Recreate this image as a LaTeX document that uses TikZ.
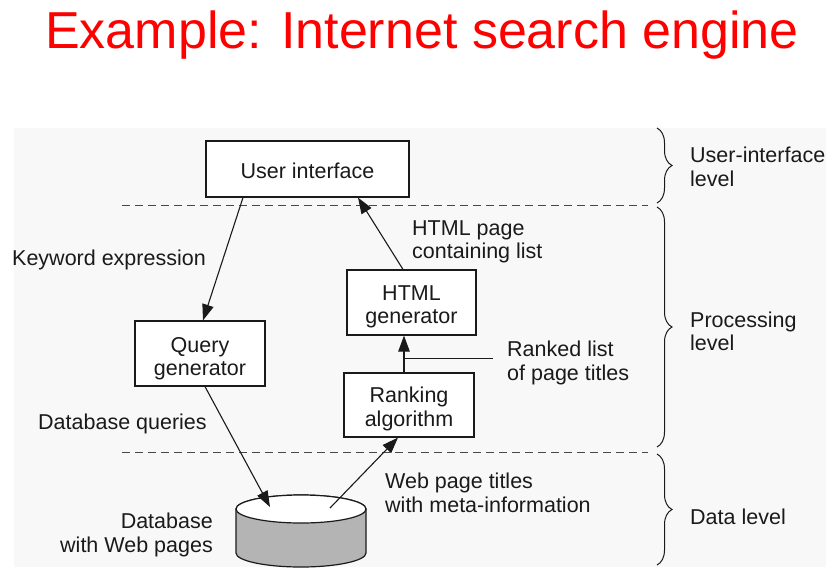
\documentclass[tikz,border=0pt]{standalone}
\usepackage{fontspec}
\setmainfont{Liberation Sans}
\usetikzlibrary{arrows.meta,decorations.pathreplacing}
\definecolor{ink}{HTML}{1A1A1A}
\definecolor{titlered}{HTML}{FF0000}
\definecolor{panel}{HTML}{F8F8F8}
\definecolor{dbgray}{HTML}{B4B4B4}
% invisible strut that lowers the text inside a box
\newcommand{\topgap}[1]{\rule{0pt}{#1}}
\begin{document}
\begin{tikzpicture}[x=1pt,y=-1pt,
  every node/.style={font=\fontsize{21.5}{23.5}\selectfont, text=ink},
  procbox/.style={draw=ink, line width=1.2pt, fill=white, align=center, inner sep=0pt},
  flow/.style={draw=ink, line width=1.1pt, -{Triangle[length=16pt,width=11.5pt]}},
  label/.style={inner sep=0pt, align=left, anchor=west},
  levelsep/.style={draw=ink!80, line width=1pt, dash pattern=on 8pt off 5pt},
  levelbrace/.style={draw=ink, line width=1pt, decorate, decoration={brace, amplitude=15pt}}
]
\useasboundingbox (0,0) rectangle (833,582);
\fill[white] (0,0) rectangle (833,582);
\fill[panel] (14,128) rectangle (826,567);

% title
\node[font=\fontsize{52}{60}\selectfont, text=titlered, anchor=base] (title) at (422,48) {Example: Internet search engine};

% level separators
\draw[levelsep] (122,205) -- (648,205);
\draw[levelsep] (122,452) -- (648,452);

% components
\node[procbox, minimum width=203pt, minimum height=56pt] (ui) at (307.5,169) {\topgap{19.5pt}User interface};
\node[procbox, minimum width=129pt, minimum height=65pt] (html) at (411.5,302.5) {\topgap{23pt}HTML\\generator};
\node[procbox, minimum width=130pt, minimum height=65pt] (query) at (200,353.5) {\topgap{25pt}Query\\generator};
\node[procbox, minimum width=130pt, minimum height=64pt] (rank) at (409,405) {\topgap{23.5pt}Ranking\\algorithm};

% database cylinder
\filldraw[draw=ink, line width=1.2pt, fill=dbgray]
  (236,509) -- (236,553) arc[start angle=180, end angle=360, x radius=65pt, y radius=14pt]
  -- (366,509) arc[start angle=0, end angle=180, x radius=65pt, y radius=14pt] -- cycle;
\filldraw[draw=ink, line width=1.2pt, fill=white] (301,509) ellipse[x radius=65pt, y radius=14pt];
\coordinate (dbin) at (270,507);
\coordinate (dbout) at (330,508);

% data flow
\draw[flow] ([xshift=-64.5pt]ui.south) -- ([xshift=3pt]query.north);
\draw[flow] ([xshift=-8.5pt]html.north) -- ([xshift=50.5pt]ui.south);
\draw[flow] ([xshift=-5pt]rank.north) -- ([xshift=-7.5pt]html.south);
\draw[flow] ([xshift=5pt]query.south) -- (dbin);
\draw[flow] (dbout) -- ([xshift=-11pt]rank.south);
\coordinate (rlstart) at (404,358);
\coordinate (rlend) at (493,358);
\draw[ink, line width=1pt] (rlstart) -- (rlend);

% flow labels
\node[label] (kw) at (12,260) {Keyword expression};
\node[label] (hp) at (412,242) {HTML page\\containing list};
\node[label] (rl) at (507,363) {Ranked list\\of page titles};
\node[label] (dq) at (38,423.5) {Database queries};
\node[label] (wp) at (385,493) {Web page titles\\with meta-information};
\node[inner sep=0pt, align=right, anchor=east] (dbl) at (213,535) {Database\\with Web pages};

% levels
\draw[levelbrace] (657,128) -- (657,203);
\draw[levelbrace] (657,207) -- (657,447);
\draw[levelbrace] (657,454) -- (657,565);
\node[label] (lui) at (690,167) {User-interface\\level};
\node[label] (lproc) at (690,331.5) {Processing\\level};
\node[label] (ldata) at (690,517) {Data level};
\end{tikzpicture}
\end{document}
